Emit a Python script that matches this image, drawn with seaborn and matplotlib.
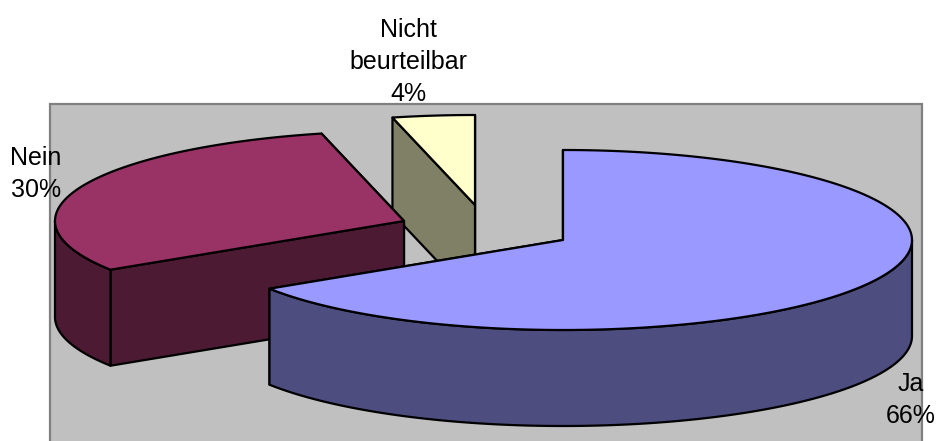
import numpy as np
import matplotlib
matplotlib.use("Agg")
import matplotlib.pyplot as plt
import seaborn as sns
from matplotlib.patches import Polygon, Rectangle

labels = ["Ja", "Nein", "Nicht\nbeurteilbar"]
values = [65.9, 30.3, 3.8]
top_colors = ["#9999FF", "#993366", "#FFFFCC"]
side_colors = ["#4D4D80", "#4D1A33", "#808066"]

sns.set_theme(style="white")
plt.rcParams["font.family"] = ["Liberation Sans", "DejaVu Sans"]

W, H = 937, 441
RX, RY, DEPTH = 349, 90, 96
centers = [(563, 240), (404, 221), (475, 205)]
label_pos = [(911, 400), (36, 174), (408, 62)]

fig = plt.figure(figsize=(W / 100, H / 100), dpi=100)
ax = fig.add_axes([0, 0, 1, 1])
ax.set_xlim(0, W)
ax.set_ylim(H, 0)
ax.axis("off")
ax.add_patch(Rectangle((50.5, 103.5), 871.5, 340, fc="#C0C0C0", ec="#808080", lw=1.6, zorder=0))


def pt(c, a, dz=0):
    return (c[0] + RX * np.sin(a), c[1] - RY * np.cos(a) + dz)


def arc(c, a0, a1, dz=0):
    t = np.linspace(a0, a1, 200)
    return np.column_stack([c[0] + RX * np.sin(t), c[1] - RY * np.cos(t) + dz])


frac = np.cumulative_sum(np.array(values, float)) / sum(values) * 2 * np.pi
starts = np.concatenate([[0], frac[:-1]])
z = 1
for i in [2, 1, 0]:
    c, a0, a1 = centers[i], starts[i], frac[i]
    kw = dict(ec="black", lw=1.6, joinstyle="round")
    # cut faces: end first, then start, so the top and nearer faces cover them
    for a in (a1, a0):
        p = pt(c, a)
        ax.add_patch(Polygon([c, p, (p[0], p[1] + DEPTH), (c[0], c[1] + DEPTH)],
                             fc=side_colors[i], zorder=z, **kw))
        z += 1
    # outer wall, front half only
    w0, w1 = max(a0, np.pi / 2), min(a1, 3 * np.pi / 2)
    if w1 > w0:
        ax.add_patch(Polygon(np.vstack([arc(c, w0, w1), arc(c, w1, w0, DEPTH)]),
                             fc=side_colors[i], zorder=z, **kw))
        z += 1
    ax.add_patch(Polygon(np.vstack([[c], arc(c, a0, a1)]), fc=top_colors[i], zorder=z, **kw))
    z += 1

for name, v, (x, y) in zip(labels, values, label_pos):
    ax.text(x, y, f"{name}\n{round(v)}%", ha="center", va="center", fontsize=18,
            color="black", linespacing=1.42, zorder=z)

fig.savefig("out.png", dpi=100)
